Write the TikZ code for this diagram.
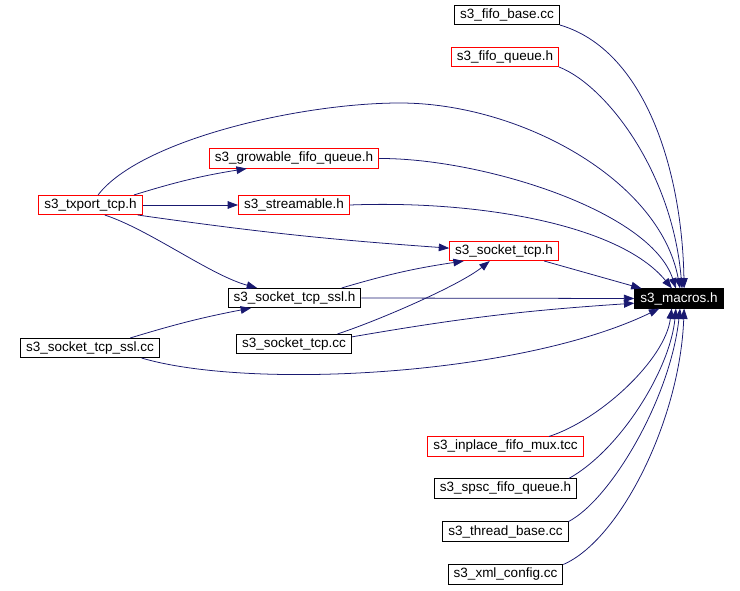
\documentclass[tikz,border=0pt]{standalone}
\usepackage{fontspec}
\setmainfont{Liberation Sans}
\usetikzlibrary{arrows.meta}
\definecolor{edgeblue}{RGB}{25,25,112}

\begin{document}
\begin{tikzpicture}[
  x=0.025cm, y=-0.025cm,
  file/.style={
    rectangle, draw=black, line width=0.6pt,
    minimum height=0.48cm, inner xsep=0.14cm, inner ysep=0pt,
    font=\fontsize{9.6}{11}\selectfont},
  redfile/.style={file, draw=red},
  hub/.style={file, fill=black, text=white},
  arr/.style={-{Triangle[length=0.26cm,width=0.19cm]},
    draw=edgeblue, line width=0.55pt},
]
  \useasboundingbox (0,0) rectangle (740,590);

  % ── Files on the right column ───────────────────────────────────────────
  \node[file]    (base)    at (507,15)    {s3\_fifo\_base.cc};
  \node[redfile] (fqueue)  at (505,57)    {s3\_fifo\_queue.h};
  \node[hub]     (macros)  at (679,298.5) {s3\_macros.h};

  % ── Middle files ────────────────────────────────────────────────────────
  \node[redfile] (grow)    at (294,158.5) {s3\_growable\_fifo\_queue.h};
  \node[redfile] (txport)  at (90.5,205)  {s3\_txport\_tcp.h};
  \node[redfile] (stream)  at (294,205)   {s3\_streamable.h};
  \node[redfile] (tcph)    at (504,251)   {s3\_socket\_tcp.h};
  \node[file]    (sslh)    at (294.5,298) {s3\_socket\_tcp\_ssl.h};
  \node[file]    (sslcc)   at (90,348)    {s3\_socket\_tcp\_ssl.cc};
  \node[file]    (tcpcc)   at (294,344)   {s3\_socket\_tcp.cc};

  % ── Files on the lower column ───────────────────────────────────────────
  \node[redfile] (mux)     at (505.5,446.5) {s3\_inplace\_fifo\_mux.tcc};
  \node[file]    (spsc)    at (505.5,488.5) {s3\_spsc\_fifo\_queue.h};
  \node[file]    (thread)  at (505.5,531.5) {s3\_thread\_base.cc};
  \node[file]    (xml)     at (505.5,574.5) {s3\_xml\_config.cc};

  % ── Edges into s3_macros.h from above ───────────────────────────────────
  \draw[arr] (base.south east) .. controls (645,50) and (682,170) .. (macros.63);
  \draw[arr] (fqueue.south east) .. controls (605,85) and (672,170) .. (macros.73);
  \draw[arr] (txport.53) .. controls (140,140) and (300,103) .. (400,103)
                         .. controls (520,103) and (660,180) .. (macros.84);
  \draw[arr] (grow.east) .. controls (480,158) and (650,210) .. (macros.107);
  \draw[arr] (stream.east) .. controls (480,200) and (620,225) .. (macros.125);
  \draw[arr] (tcph.346) -- (macros.165);
  \draw[arr] (sslh.east) -- (macros.west);
  \draw[arr] (tcpcc.7) to[bend left=3] (macros.186);

  % ── Edges among the middle files ────────────────────────────────────────
  \draw[arr] (txport.13) to[bend left=4] (grow.192);
  \draw[arr] (txport.east) -- (stream.west);
  \draw[arr] (txport.348) to[bend right=2] (tcph.177);
  \draw[arr] (txport.325) .. controls (150,230) and (210,275) .. (sslh.165);
  \draw[arr] (sslh.12) to[bend left=4] (tcph.194);
  \draw[arr] (sslcc.14) to[bend left=3] (sslh.193);
  \draw[arr] (tcpcc.13) .. controls (380,320) and (460,285) .. (tcph.215);

  % ── Edges into s3_macros.h from below ───────────────────────────────────
  \draw[arr] (sslcc.349) .. controls (250,390) and (520,376) .. (macros.207);
  \draw[arr] (mux.13) .. controls (600,420) and (665,360) .. (macros.234);
  \draw[arr] (spsc.9) .. controls (620,450) and (670,370) .. (macros.253);
  \draw[arr] (thread.9) .. controls (610,500) and (670,400) .. (macros.276);
  \draw[arr] (xml.north east) .. controls (620,540) and (680,420) .. (macros.297);

\end{tikzpicture}
\end{document}
